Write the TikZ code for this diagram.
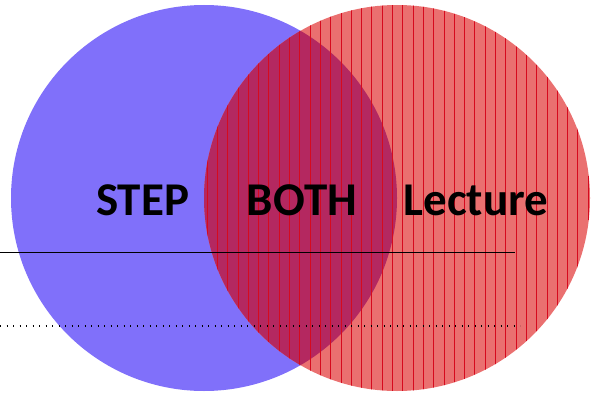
\documentclass[tikz,border=0pt]{standalone}
\usepackage{fontspec}
\setmainfont{Carlito}
\definecolor{blueset}{RGB}{128,112,250}
\definecolor{redset}{RGB}{234,112,112}
\definecolor{bothset}{RGB}{180,40,96}
\definecolor{stripe}{RGB}{214,10,30}
\begin{document}
\begin{tikzpicture}[x=1pt,y=-1pt,
  lbl/.style={font=\bfseries\fontsize{47}{52}\selectfont, text=black, inner sep=0pt, anchor=base},
  stripes/.style={stripe, line width=0.8pt}]
\useasboundingbox (0,0) rectangle (593,393);
% blue set
\node[circle, minimum size=386pt, inner sep=0pt, fill=blueset] (blue) at (204,198) {};
% red set
\node[circle, minimum size=386pt, inner sep=0pt, fill=redset] (red) at (397,198) {};
% intersection
\begin{scope}
  \clip (204,198) circle (193);
  \fill[bothset] (397,198) circle (193);
\end{scope}
% stripes on red
\begin{scope}
  \clip (397,198) circle (193);
  \foreach \i in {0,...,38} {
    \draw[stripes] (207+\i*10.3,0) -- (207+\i*10.3,393);
  }
\end{scope}
% lines
\coordinate (l1a) at (0,252);
\coordinate (l1b) at (515,252);
\coordinate (l2a) at (0,326);
\coordinate (l2b) at (520,326);
\draw[black, line width=0.8pt] (l1a) -- (l1b);
\draw[black, line width=1.1pt, dash pattern=on 1.3pt off 5.2pt] (l2a) -- (l2b);
% labels
\node[lbl] (step) at (142.5,215.5) {STEP};
\node[lbl] (both) at (302,215.5) {BOTH};
\node[lbl] (lect) at (476,215.5) {Lecture};
\end{tikzpicture}
\end{document}
